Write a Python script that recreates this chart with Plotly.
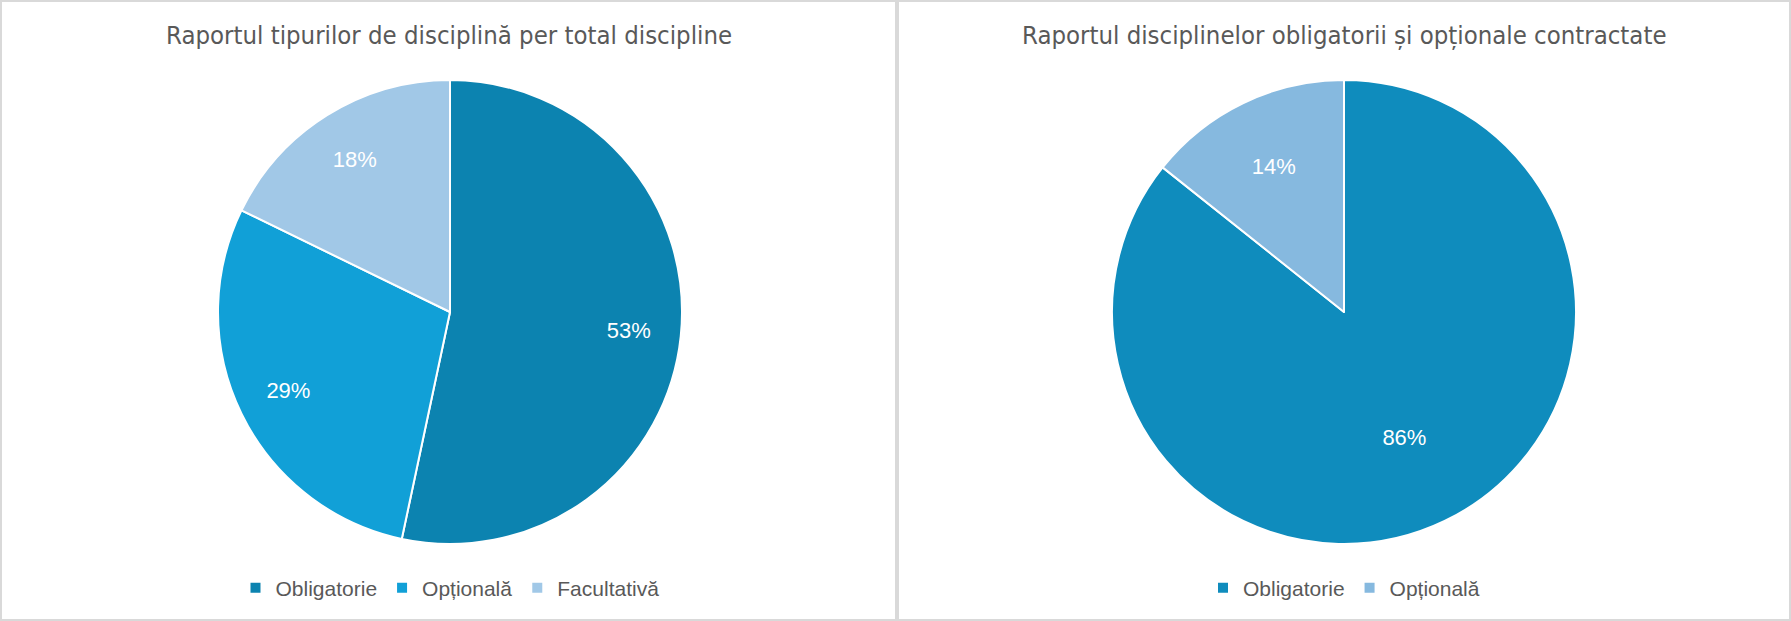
import plotly.graph_objects as go

# Data
left_title = "Raportul tipurilor de disciplină per total discipline"
left_labels = ["Obligatorie", "Opțională", "Facultativă"]
left_values = [24, 13, 8]
left_colors = ["#0C83B0", "#11A0D7", "#A1C8E7"]

right_title = "Raportul disciplinelor obligatorii și opționale contractate"
right_labels = ["Obligatorie", "Opțională"]
right_values = [24, 4]
right_colors = ["#0F8CBD", "#86B9DF"]

W, H = 1791, 621
TITLE_FONT = "Liberation Sans Narrow, Arial Narrow, DejaVu Sans Condensed, sans-serif"
BODY_FONT = "Liberation Sans, Arial, sans-serif"
GREY_TEXT = "#595959"
BORDER = "#D9D9D9"

def px_x(x):
    return x / W

def px_y(y):
    return (H - y) / H

R = 232
lcx, cy = 450, 312
rcx = 1344

left_dom = dict(x=[px_x(lcx - R), px_x(lcx + R)], y=[px_y(cy + R), px_y(cy - R)])
right_dom = dict(x=[px_x(rcx - R), px_x(rcx + R)], y=[px_y(cy + R), px_y(cy - R)])

# pie legends merge identical labels across traces; a zero-width suffix keeps
# the right chart's legend separate
right_keys = [lab + "\u200b" for lab in right_labels]

fig = go.Figure()
# main slices
fig.add_trace(go.Pie(
    labels=left_labels, values=left_values, sort=False, direction="clockwise", rotation=0,
    marker=dict(colors=left_colors, line=dict(color="white", width=2)),
    textinfo="none", domain=left_dom, legend="legend", hoverinfo="label+percent",
))
fig.add_trace(go.Pie(
    labels=right_keys, values=right_values, sort=False, direction="clockwise", rotation=0,
    marker=dict(colors=right_colors, line=dict(color="white", width=2)),
    textinfo="none", domain=right_dom, legend="legend2", hoverinfo="label+percent",
))
# transparent ring overlays that carry the percentage labels further out
fig.add_trace(go.Pie(
    labels=left_labels, values=left_values, sort=False, direction="clockwise", rotation=0,
    hole=0.55, marker=dict(colors=["rgba(0,0,0,0)"] * len(left_values), line=dict(width=0)),
    texttemplate="%{percent:.0%}", textposition="inside", insidetextorientation="horizontal",
    textfont=dict(color="white", size=22, family=BODY_FONT),
    domain=left_dom, showlegend=False, hoverinfo="skip",
))
fig.add_trace(go.Pie(
    labels=right_keys, values=right_values, sort=False, direction="clockwise", rotation=0,
    hole=0.2, marker=dict(colors=["rgba(0,0,0,0)"] * len(right_values), line=dict(width=0)),
    texttemplate="%{percent:.0%}", textposition="inside", insidetextorientation="horizontal",
    textfont=dict(color="white", size=22, family=BODY_FONT),
    domain=right_dom, showlegend=False, hoverinfo="skip",
))

legend_common = dict(
    orientation="h", xanchor="center", yanchor="middle",
    font=dict(family=BODY_FONT, size=21, color=GREY_TEXT),
    bgcolor="rgba(0,0,0,0)", itemclick=False, itemdoubleclick=False,
)

fig.update_layout(
    width=W, height=H,
    margin=dict(l=0, r=0, t=0, b=0),
    paper_bgcolor="white", plot_bgcolor="white",
    showlegend=True,
    legend=dict(x=px_x(450), y=px_y(588), **legend_common),
    legend2=dict(x=px_x(1344), y=px_y(588), **legend_common),
    annotations=[
        dict(text=left_title, x=px_x(449), y=px_y(35), xref="paper", yref="paper",
             showarrow=False, xanchor="center", yanchor="middle",
             font=dict(family=TITLE_FONT, size=25.5, color=GREY_TEXT)),
        dict(text=right_title, x=px_x(1344), y=px_y(35), xref="paper", yref="paper",
             showarrow=False, xanchor="center", yanchor="middle",
             font=dict(family=TITLE_FONT, size=25.5, color=GREY_TEXT)),
    ],
    shapes=[
        dict(type="rect", xref="paper", yref="paper",
             x0=px_x(1), x1=px_x(896), y0=px_y(620), y1=px_y(1),
             line=dict(color=BORDER, width=2), fillcolor="rgba(0,0,0,0)"),
        dict(type="rect", xref="paper", yref="paper",
             x0=px_x(898), x1=px_x(1790), y0=px_y(620), y1=px_y(1),
             line=dict(color=BORDER, width=2), fillcolor="rgba(0,0,0,0)"),
    ],
)

fig.write_html("out.html")
